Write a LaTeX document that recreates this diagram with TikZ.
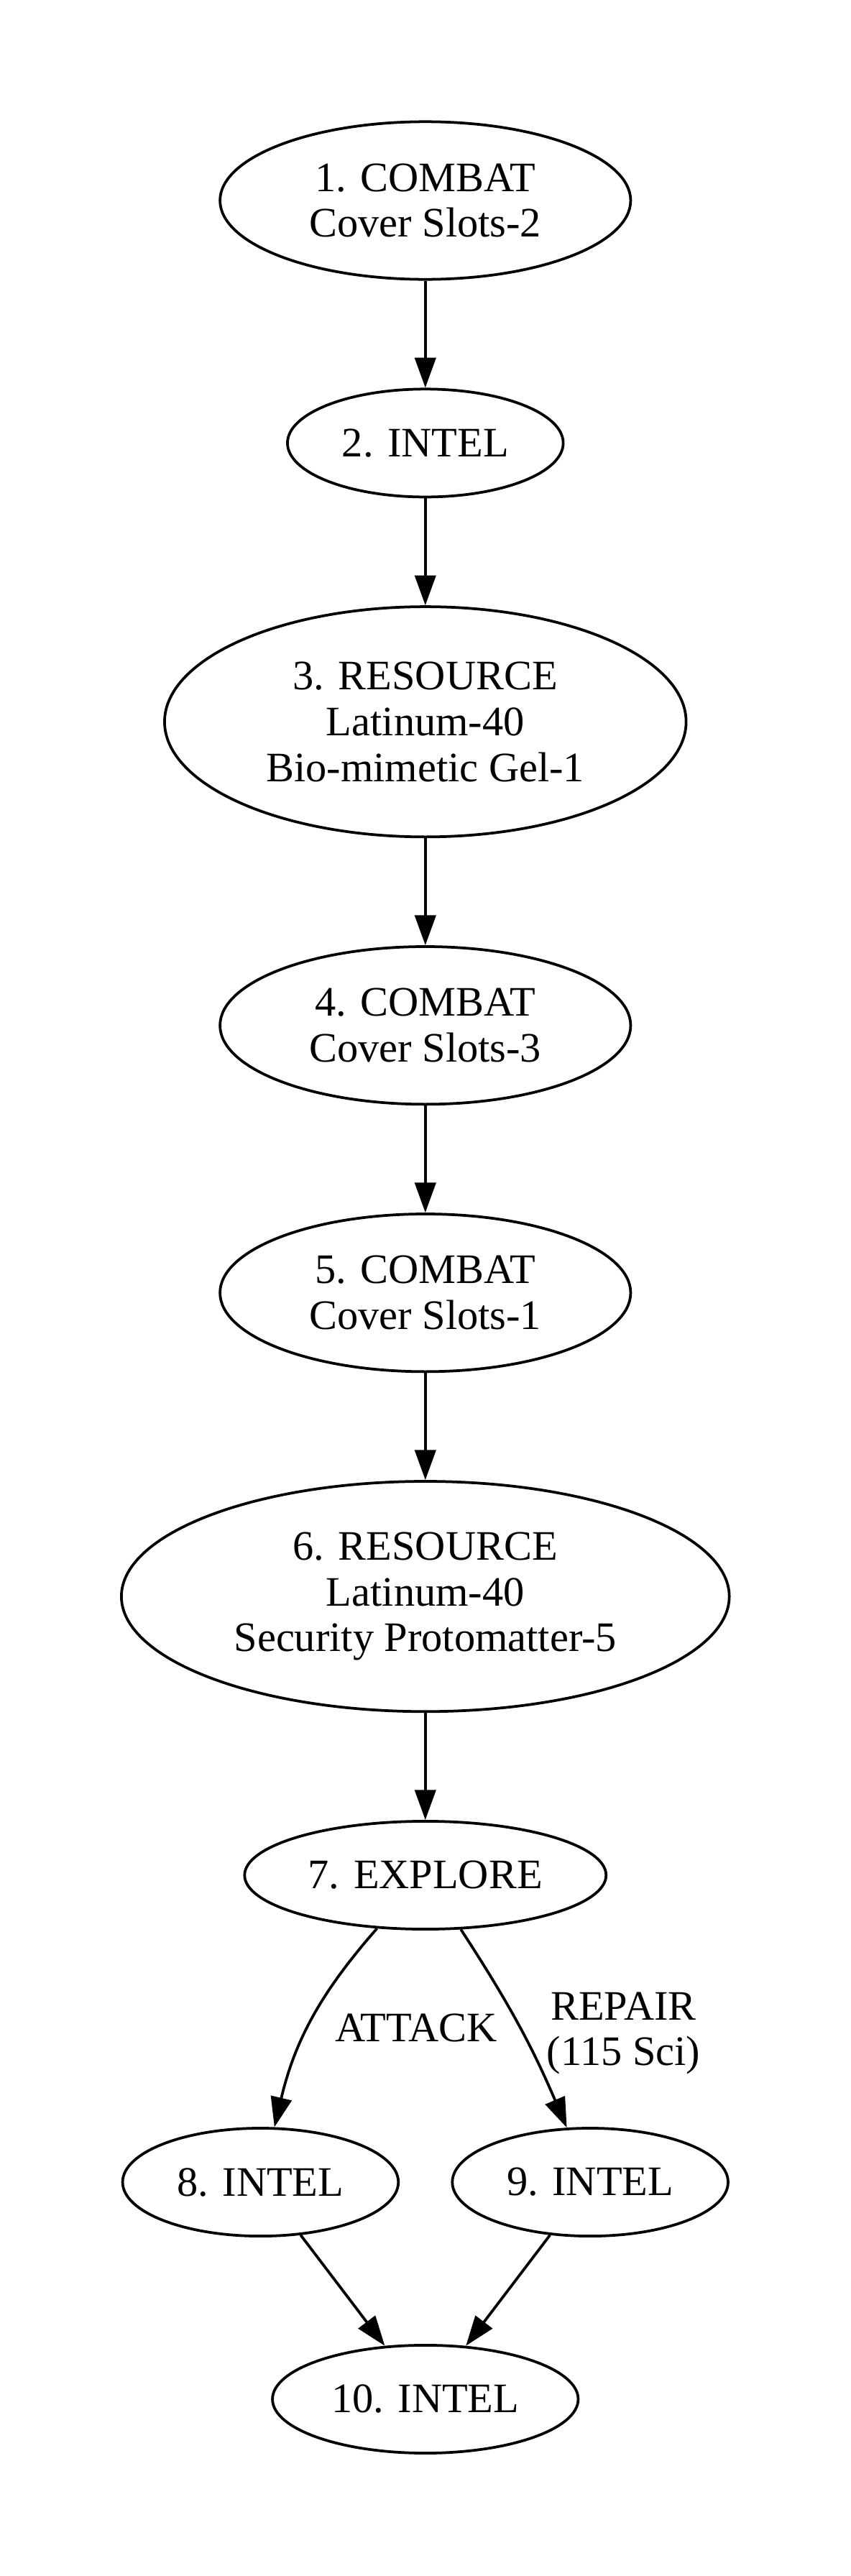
\documentclass[tikz,border=0pt]{standalone}
\usepackage{fontspec}
\setmainfont{Liberation Serif}
\usetikzlibrary{arrows.meta,positioning,shapes.geometric}

\begin{document}
\begin{tikzpicture}[->,>={Triangle[length=10pt,width=7pt]},line width=0.9pt,
    node distance=35.7pt,font=\fontsize{14}{15.3}\selectfont,
    room/.style={ellipse,draw,align=center,inner sep=0pt},
    combat/.style={room,minimum width=137pt,minimum height=52.6pt},
    intel/.style={room,minimum width=92pt,minimum height=36pt},
    resource/.style={room,minimum width=174pt,minimum height=76.8pt},
    explore/.style={room,minimum width=120.6pt,minimum height=36pt}]
      \useasboundingbox (0,0) rectangle (283.9pt,-859.4pt);

      \node[combat]   (A) at (141.9pt,-66.9pt) {1. COMBAT\\Cover Slots-2};
      \node[intel]    (B) [below=of A]         {2. INTEL};
      \node[resource] (C) [below=of B]         {3. RESOURCE\\Latinum-40\\Bio-mimetic Gel-1};
      \node[combat]   (D) [below=of C]         {4. COMBAT\\Cover Slots-3};
      \node[combat]   (E) [below=of D]         {5. COMBAT\\Cover Slots-1};
      \node[resource,minimum width=202.8pt]
                      (F) [below=of E]         {6. RESOURCE\\Latinum-40\\Security Protomatter-5};
      \node[explore]  (G) [below=of F]         {7. EXPLORE};
      \node[intel]    (H) [below=65.5pt of G,xshift=-55pt] {8. INTEL};
      \node[intel]    (I) [below=65.5pt of G,xshift=55pt]  {9. INTEL};
      \node[intel,minimum width=102pt]
                      (J) [below=35.5pt of H,xshift=55pt] {10. INTEL};

      \path (A) edge (B)
            (B) edge (C)
            (C) edge (D)
            (D) edge (E)
            (E) edge (F)
            (F) edge (G)
            (G) edge [bend right=14] node[right=4pt,yshift=-2.5pt] {ATTACK} (H)
                edge [bend left=5]   node[right=5.5pt,yshift=-2.5pt,align=center] {REPAIR\\(115 Sci)} (I)
            (H) edge (J)
            (I) edge (J);
    \end{tikzpicture}
\end{document}
